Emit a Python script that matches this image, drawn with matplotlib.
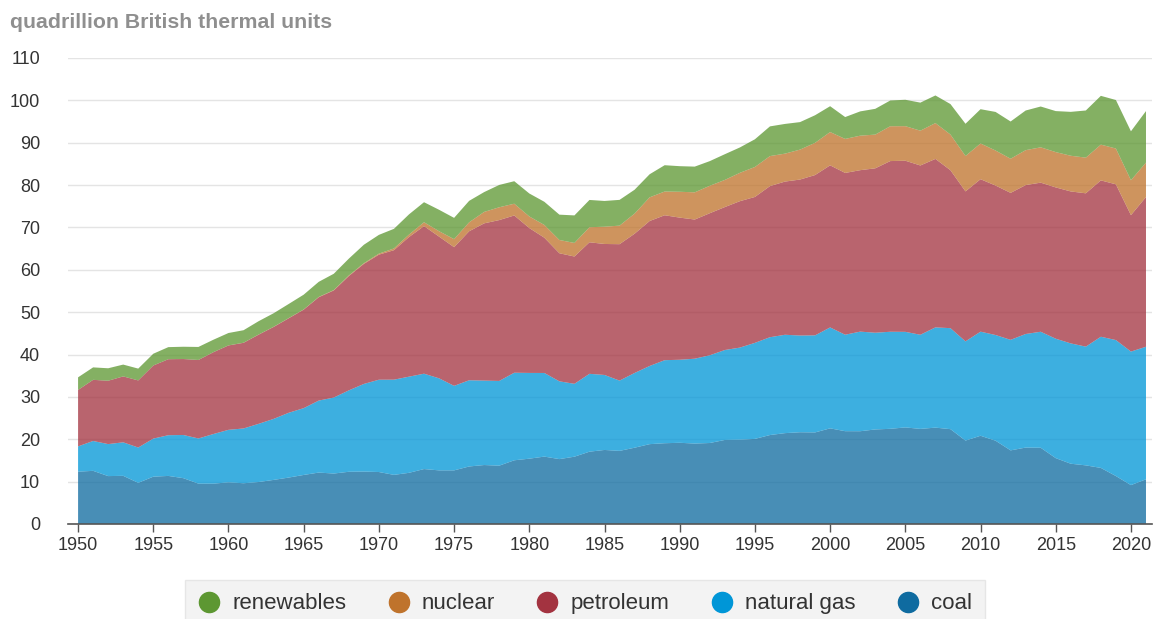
import matplotlib
matplotlib.use("Agg")
import matplotlib.pyplot as plt
from matplotlib.lines import Line2D

plt.rcParams['font.family'] = ['Liberation Sans', 'DejaVu Sans']

years = list(range(1950, 2022))

coal = [12.35, 12.55, 11.31, 11.37, 9.72, 11.17, 11.35, 10.82, 9.53, 9.52,
        9.84, 9.62, 9.91, 10.41, 10.96, 11.58, 12.14, 11.91, 12.33, 12.38,
        12.27, 11.60, 12.08, 12.97, 12.66, 12.66, 13.58, 13.92, 13.77, 15.04,
        15.42, 15.91, 15.32, 15.89, 17.07, 17.48, 17.26, 18.01, 18.85, 19.07,
        19.17, 18.99, 19.12, 19.84, 19.91, 20.09, 21.00, 21.45, 21.66, 21.62,
        22.58, 21.91, 21.90, 22.32, 22.47, 22.80, 22.45, 22.75, 22.39, 19.69,
        20.83, 19.66, 17.38, 18.04, 18.00, 15.55, 14.23, 13.84, 13.24, 11.32,
        9.18, 10.55]

natural_gas = [5.97, 7.05, 7.55, 7.91, 8.33, 8.99, 9.61, 10.19, 10.66, 11.72,
               12.39, 12.93, 13.73, 14.40, 15.29, 15.77, 16.99, 17.94, 19.21, 20.68,
               21.79, 22.47, 22.70, 22.51, 21.73, 19.95, 20.35, 19.93, 20.00, 20.67,
               20.24, 19.74, 18.36, 17.20, 18.38, 17.70, 16.59, 17.64, 18.45, 19.60,
               19.60, 20.03, 20.71, 21.23, 21.73, 22.67, 23.09, 23.22, 22.83, 22.91,
               23.82, 22.77, 23.51, 22.83, 22.91, 22.56, 22.22, 23.66, 23.84, 23.42,
               24.57, 24.95, 26.09, 26.81, 27.38, 28.19, 28.40, 28.03, 30.96, 32.10,
               31.52, 31.29]

petroleum = [13.32, 14.43, 14.96, 15.56, 15.84, 17.25, 17.94, 17.93, 18.53, 19.32,
             19.92, 20.22, 21.05, 21.70, 22.30, 23.25, 24.40, 25.28, 26.98, 28.34,
             29.52, 30.56, 32.95, 34.84, 33.45, 32.73, 35.17, 37.12, 37.97, 37.12,
             34.20, 31.93, 30.23, 30.05, 31.05, 30.92, 32.20, 32.87, 34.22, 34.21,
             33.55, 32.85, 33.53, 33.74, 34.56, 34.44, 35.67, 36.16, 36.82, 37.84,
             38.26, 38.19, 38.11, 38.81, 40.29, 40.39, 39.96, 39.77, 37.28, 35.40,
             35.99, 35.28, 34.69, 35.15, 35.20, 35.71, 35.87, 36.19, 36.91, 36.76,
             32.20, 35.34]

nuclear = [0, 0, 0, 0, 0, 0, 0, 0.002, 0.002, 0.002,
           0.006, 0.020, 0.026, 0.038, 0.040, 0.043, 0.064, 0.088, 0.142, 0.154,
           0.239, 0.413, 0.584, 0.910, 1.272, 1.900, 2.111, 2.702, 3.024, 2.776,
           2.739, 3.008, 3.131, 3.203, 3.553, 4.076, 4.380, 4.754, 5.587, 5.602,
           6.104, 6.422, 6.479, 6.410, 6.694, 7.075, 7.087, 6.597, 7.068, 7.610,
           7.862, 8.029, 8.145, 7.960, 8.223, 8.161, 8.215, 8.459, 8.426, 8.356,
           8.434, 8.269, 8.062, 8.244, 8.338, 8.337, 8.427, 8.419, 8.438, 8.452,
           8.251, 8.131]

renewables = [2.98, 2.94, 2.94, 2.79, 2.79, 2.78, 2.85, 2.90, 3.07, 2.94,
              2.93, 2.95, 3.15, 3.20, 3.34, 3.49, 3.57, 3.85, 3.97, 4.36,
              4.43, 4.63, 4.77, 4.73, 5.06, 5.02, 5.07, 4.68, 5.27, 5.31,
              5.42, 5.47, 5.98, 6.50, 6.44, 6.08, 6.08, 5.63, 5.45, 6.21,
              6.04, 6.07, 5.82, 6.07, 5.99, 6.54, 7.01, 7.01, 6.49, 6.51,
              6.10, 5.16, 5.73, 6.08, 6.08, 6.23, 6.62, 6.52, 7.19, 7.61,
              8.09, 9.11, 8.79, 9.36, 9.63, 9.68, 10.36, 11.13, 11.52, 11.45,
              11.55, 12.16]

labels = ['coal', 'natural gas', 'petroleum', 'nuclear', 'renewables']
colors = ['#0f6ba0', '#0096d7', '#a33340', '#bf732c', '#5d9732']

fig = plt.figure(figsize=(11.53, 6.19), dpi=100)
ax = fig.add_axes([68 / 1153, 1 - 524 / 619, 1084 / 1153, 466 / 619])

ax.stackplot(years, coal, natural_gas, petroleum, nuclear, renewables,
             colors=colors, alpha=0.76, linewidth=0, zorder=2)

ax.set_xlim(1949.33, 2021.4)
ax.set_ylim(0, 110)
ax.set_yticks(range(0, 111, 10))
ax.set_xticks(range(1950, 2021, 5))
ax.yaxis.grid(True, color='#e4e4e4', linewidth=1, zorder=0)
ax.set_axisbelow(True)

for s in ['top', 'right', 'left']:
    ax.spines[s].set_visible(False)
ax.spines['bottom'].set_color('#555555')
ax.spines['bottom'].set_linewidth(1.2)

ax.tick_params(axis='y', length=0, pad=20, labelsize=13, labelcolor='#333333')
ax.tick_params(axis='x', length=6, width=1, color='#555555', pad=3,
               labelsize=13, labelcolor='#333333')

fig.text(10 / 1153, 1 - 22 / 619, 'quadrillion British thermal units',
         fontsize=15.3, fontweight='bold', color='#8f8f8f', va='center')

handles = [Line2D([], [], linestyle='none', marker='o', markersize=14.5,
                  markerfacecolor=c, markeredgecolor=c)
           for c in colors[::-1]]
leg = fig.legend(handles, labels[::-1], loc='upper center', ncol=5,
                 bbox_to_anchor=(585 / 1153, 1 - 580 / 619), fontsize=16,
                 frameon=True, fancybox=False, handlelength=1.0,
                 handletextpad=0.55, columnspacing=1.85, borderpad=0.6,
                 borderaxespad=0)
leg.get_frame().set_facecolor('#f0f0f0')
leg.get_frame().set_edgecolor('#e2e2e2')
for t in leg.get_texts():
    t.set_color('#333333')

fig.savefig('out.png', dpi=100)
